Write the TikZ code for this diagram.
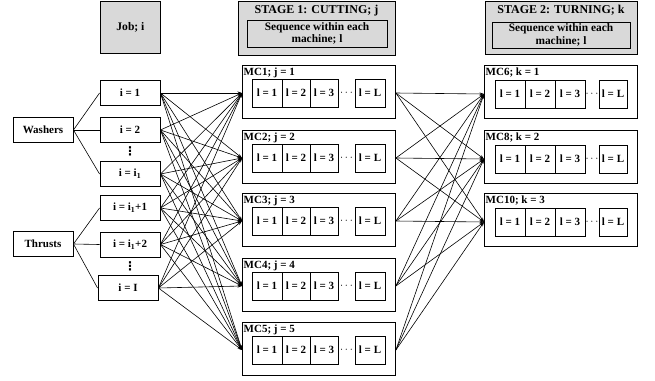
\documentclass[tikz,border=0pt]{standalone}
\usepackage{fontspec}
\setmainfont{Liberation Serif}
\newfontfamily\dejavu{DejaVu Sans}
\usetikzlibrary{arrows.meta}
\definecolor{hdr}{RGB}{217,217,217}
\begin{document}
\begin{tikzpicture}[x=1pt,y=-1pt,
  every node/.style={font=\fontsize{11}{12.5}\selectfont\bfseries, inner sep=0pt},
  box/.style={draw, line width=0.9pt, rectangle},
  hbox/.style={box, fill=hdr, anchor=north west},
  jbox/.style={box, minimum width=60, minimum height=25},
  mcbox/.style={box, anchor=north west, minimum width=153, minimum height=53},
  lbox/.style={box, minimum height=28},
  vdot/.style={font=\fontsize{12}{12}\selectfont\dejavu\bfseries},
  title/.style={font=\fontsize{12}{13}\selectfont\bfseries},
  seq/.style={box, align=center, font=\fontsize{11.4}{12.5}\selectfont\bfseries},
  conn/.style={line width=0.6pt},
  arr/.style={conn, -{Stealth[length=4.5pt,width=3pt]}}
]
\useasboundingbox (0,0) rectangle (655,380);

% headers
\node[hbox, minimum width=60, minimum height=52, font=\fontsize{11.6}{13}\selectfont\bfseries] (hjob) at (100,1) {Job; i};
\node[hbox, minimum width=157, minimum height=54] (hs1) at (238,1) {};
\node[title] (hs1t) at (316.5,10.5) {STAGE 1: CUTTING; j};
\node[seq, minimum width=140, minimum height=27] (hs1s) at (317,33.5) {Sequence within each\\machine; l};
\node[hbox, minimum width=152, minimum height=53] (hs2) at (485,1) {};
\node[title] (hs2t) at (561,10.5) {STAGE 2: TURNING; k};
\node[seq, minimum width=138, minimum height=26] (hs2s) at (561,35) {Sequence within each\\machine; l};

% product groups
\node[jbox] (wash) at (43,130) {Washers};
\node[jbox] (thr) at (43,244) {Thrusts};

% jobs
\node[jbox] (j1) at (130,93) {i = 1};
\node[jbox] (j2) at (130,130) {i = 2};
\node[jbox] (j3) at (130,174) {i = i\textsubscript{1}};
\node[jbox] (j4) at (130,208) {i = i\textsubscript{1}+1};
\node[jbox] (j5) at (130,244.5) {i = i\textsubscript{1}+2};
\node[jbox] (j6) at (128,288) {i = I};
\node[vdot] (d1) at (130,151.5) {⋮};
\node[vdot] (d2) at (130,266) {⋮};

\foreach \j in {j1,j2,j3} \draw[conn] (wash.east) -- (\j.west);
\foreach \j in {j4,j5,j6} \draw[conn] (thr.east) -- (\j.west);

% stage 1 machines
\foreach \n/\t/\lab in {1/65/{MC1; j = 1},2/130/{MC2; j = 2},3/193/{MC3; j = 3},4/258/{MC4; j = 4},5/322/{MC5; j = 5}}{
  \node[mcbox] (mc\n) at (242,\t) {};
  \node[anchor=north west] (mc\n t) at (243.5,\t+3) {\lab};
  \node[lbox, minimum width=30] (mc\n a) at (267,\t+28) {l = 1};
  \node[lbox, minimum width=28] (mc\n b) at (296,\t+28) {l = 2};
  \node[lbox, minimum width=28] (mc\n c) at (324,\t+28) {l = 3};
  \node (mc\n d) at (346.5,\t+28) {$\cdots$};
  \node[lbox, minimum width=30] (mc\n e) at (370,\t+28) {l = L};
}

% stage 2 machines
\foreach \n/\t/\lab in {6/65/{MC6; k = 1},7/130/{MC8; k = 2},8/193/{MC10; k = 3}}{
  \node[mcbox, minimum width=153] (mc\n) at (484,\t) {};
  \node[anchor=north west] (mc\n t) at (485.5,\t+3) {\lab};
  \node[lbox, minimum width=30] (mc\n a) at (510,\t+29) {l = 1};
  \node[lbox, minimum width=30] (mc\n b) at (540,\t+29) {l = 2};
  \node[lbox, minimum width=30] (mc\n c) at (570,\t+29) {l = 3};
  \node (mc\n d) at (592,\t+29) {$\cdots$};
  \node[lbox, minimum width=28] (mc\n e) at (613,\t+29) {l = L};
}

% jobs -> stage 1
\foreach \j in {j1,j2,j3,j4,j5,j6}
  \foreach \m in {1,...,5}
    \draw[arr] (\j.east) -- (mc\m.west |- mc\m a.center);

% stage 1 -> stage 2
\foreach \m in {1,...,5}
  \foreach \k in {6,7,8}
    \draw[arr] (mc\m.east |- mc\m a.center) -- (mc\k.west |- mc\k a.center);

\end{tikzpicture}
\end{document}
